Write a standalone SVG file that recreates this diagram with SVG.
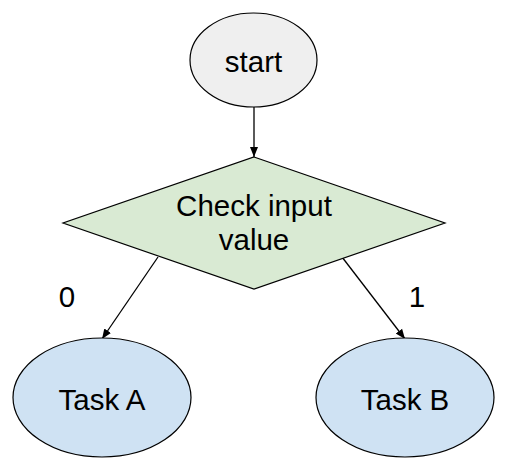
<svg xmlns="http://www.w3.org/2000/svg" width="510" height="473" viewBox="0 0 510 473">
<style>
.n{stroke:#000;stroke-width:1.2}
.t{font-family:"Liberation Sans",Arial,sans-serif;font-size:29.5px;fill:#000;text-anchor:middle}
.c{stroke:#000;stroke-width:1.3;fill:none;marker-end:url(#ah)}
</style>
<defs>
<marker id="ah" viewBox="0 0 10 10" refX="10" refY="5" markerWidth="10" markerHeight="10" markerUnits="userSpaceOnUse" orient="auto">
<path d="M0,1 L10,5 L0,9 Z" fill="#000"/>
</marker>
</defs>
<rect width="510" height="473" fill="#fff"/>
<g id="connectors">
<line class="c" x1="254" y1="107" x2="254" y2="157"/>
<line class="c" x1="158" y1="257" x2="102" y2="339"/>
<line class="c" x1="342" y1="257" x2="405" y2="339"/>
<text class="t" x="67" y="307">0</text>
<text class="t" x="417" y="307">1</text>
</g>
<g id="start">
<ellipse class="n" cx="253.5" cy="60" rx="63.5" ry="47" fill="#efefef"/>
<text class="t" x="253.5" y="72">start</text>
</g>
<g id="check">
<polygon class="n" points="254,157 445,223 254,289 63,223" fill="#d9ead3"/>
<text class="t" x="254" y="216">Check input</text>
<text class="t" x="254" y="250">value</text>
</g>
<g id="taskA">
<ellipse class="n" cx="102" cy="397.5" rx="89" ry="59.5" fill="#cfe2f3"/>
<text class="t" x="102" y="410">Task A</text>
</g>
<g id="taskB">
<ellipse class="n" cx="405" cy="397.5" rx="89" ry="59.5" fill="#cfe2f3"/>
<text class="t" x="405" y="410">Task B</text>
</g>
</svg>
